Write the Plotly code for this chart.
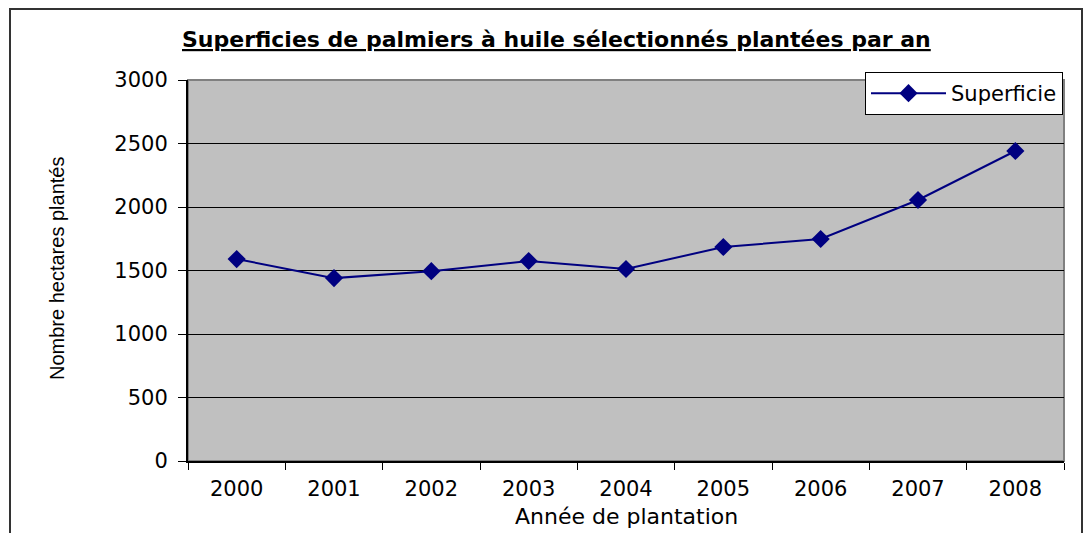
import plotly.graph_objects as go

years = ["2000", "2001", "2002", "2003", "2004", "2005", "2006", "2007", "2008"]
superficie = [1590, 1440, 1495, 1575, 1512, 1685, 1748, 2055, 2441]
y_ticks = [0, 500, 1000, 1500, 2000, 2500, 3000]

W, H = 1088, 533
L, R, T, B = 188, 24, 80, 72
pw, ph = W - L - R, H - T - B

def px(x):
    return (x - L) / pw

def py(y):
    return (H - B - y) / ph

fig = go.Figure()
fig.add_trace(go.Scatter(
    x=years, y=superficie, mode="lines+markers", name="Superficie",
    line=dict(color="#000080", width=2),
    marker=dict(symbol="diamond", size=14, color="#000080"),
))

wide = "DejaVu Sans, Verdana, sans-serif"
narrow = "Liberation Sans, Arial, sans-serif"
fig.update_layout(
    width=W, height=H,
    margin=dict(l=L, r=R, t=T, b=B),
    paper_bgcolor="white", plot_bgcolor="#C0C0C0",
    font=dict(family=wide, size=21, color="black"),
    showlegend=True,
    legend=dict(x=px(1063), y=py(72), xanchor="right", yanchor="top",
                bgcolor="white", bordercolor="black", borderwidth=1,
                font=dict(family=wide, size=21), itemwidth=75,
                tracegroupgap=0),
    xaxis=dict(type="category", range=[-0.5, 8.5], tickson="boundaries",
               ticks="outside", ticklen=7, tickcolor="black",
               ticklabelstandoff=8,
               showline=True, linecolor="black", linewidth=2,
               showgrid=False, tickfont=dict(family=wide, size=21)),
    yaxis=dict(range=[0, 3000], tickvals=y_ticks, ticks="outside", ticklen=8,
               tickcolor="black", showline=True, linecolor="black", linewidth=2,
               ticklabelstandoff=6,
               showgrid=True, gridcolor="black", gridwidth=1,
               zeroline=False, tickfont=dict(family=wide, size=21)),
    shapes=[
        dict(type="rect", xref="paper", yref="paper", x0=0, x1=1, y0=0, y1=1,
             line=dict(color="#808080", width=2), layer="below"),
        dict(type="rect", xref="paper", yref="paper",
             x0=px(10), x1=px(1082), y0=py(545), y1=py(9),
             line=dict(color="#333333", width=2)),
    ],
    annotations=[
        dict(text="<b><u>Superficies de palmiers à huile sélectionnés plantées par an</u></b>",
             xref="paper", yref="paper", x=px(556), y=py(40), showarrow=False,
             font=dict(family=wide, size=22), xanchor="center", yanchor="middle"),
        dict(text="Nombre hectares plantés", xref="paper", yref="paper",
             x=px(57), y=py(269), textangle=-90, showarrow=False,
             font=dict(family=narrow, size=20), xanchor="center", yanchor="middle"),
        dict(text="Année de plantation", xref="paper", yref="paper",
             x=px(626), y=py(516), showarrow=False,
             font=dict(family=wide, size=22), xanchor="center", yanchor="middle"),
    ],
)

fig.write_html("out.html", config={"displayModeBar": False},
               post_script="document.body.style.margin='0';document.body.style.overflow='hidden';")
